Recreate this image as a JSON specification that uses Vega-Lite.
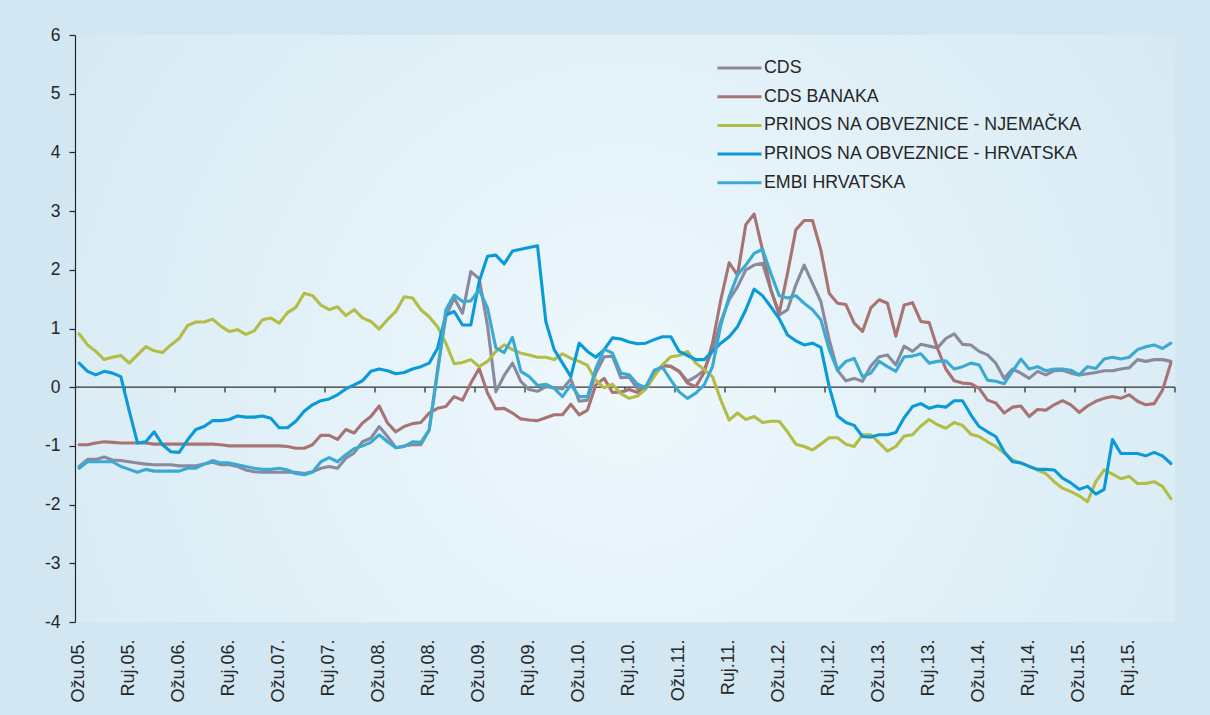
{
  "$schema": "https://vega.github.io/schema/vega-lite/v6.json",
  "width": 1100,
  "height": 587,
  "autosize": {"type": "none"},
  "padding": {"left": 75, "top": 35, "right": 35, "bottom": 93},
  "background": "#d2e7f1",
  "view": {"stroke": null, "fill": {"gradient": "radial", "x1": 0.5, "y1": 0.55, "r1": 0, "x2": 0.5, "y2": 0.55, "r2": 0.72, "stops": [{"offset": 0, "color": "#eef8fd"}, {"offset": 1, "color": "#d2e7f1"}]}},
  "config": {"font": "Liberation Sans"},
  "data": {"values": [
    {"m":"Ožu.05.","CDS":-1.35,"CDS BANAKA":-0.98,"PRINOS NA OBVEZNICE - NJEMAČKA":0.91,"PRINOS NA OBVEZNICE - HRVATSKA":0.41,"EMBI HRVATSKA":-1.38},
    {"m":"Tra.05.","CDS":-1.23,"CDS BANAKA":-0.98,"PRINOS NA OBVEZNICE - NJEMAČKA":0.72,"PRINOS NA OBVEZNICE - HRVATSKA":0.27,"EMBI HRVATSKA":-1.27},
    {"m":"Svi.05.","CDS":-1.23,"CDS BANAKA":-0.95,"PRINOS NA OBVEZNICE - NJEMAČKA":0.61,"PRINOS NA OBVEZNICE - HRVATSKA":0.21,"EMBI HRVATSKA":-1.27},
    {"m":"Lip.05.","CDS":-1.19,"CDS BANAKA":-0.93,"PRINOS NA OBVEZNICE - NJEMAČKA":0.47,"PRINOS NA OBVEZNICE - HRVATSKA":0.27,"EMBI HRVATSKA":-1.27},
    {"m":"Srp.05.","CDS":-1.24,"CDS BANAKA":-0.94,"PRINOS NA OBVEZNICE - NJEMAČKA":0.51,"PRINOS NA OBVEZNICE - HRVATSKA":0.24,"EMBI HRVATSKA":-1.27},
    {"m":"Kol.05.","CDS":-1.25,"CDS BANAKA":-0.95,"PRINOS NA OBVEZNICE - NJEMAČKA":0.54,"PRINOS NA OBVEZNICE - HRVATSKA":0.18,"EMBI HRVATSKA":-1.35},
    {"m":"Ruj.05.","CDS":-1.27,"CDS BANAKA":-0.95,"PRINOS NA OBVEZNICE - NJEMAČKA":0.41,"PRINOS NA OBVEZNICE - HRVATSKA":-0.40,"EMBI HRVATSKA":-1.40},
    {"m":"Lis.05.","CDS":-1.29,"CDS BANAKA":-0.95,"PRINOS NA OBVEZNICE - NJEMAČKA":0.55,"PRINOS NA OBVEZNICE - HRVATSKA":-0.95,"EMBI HRVATSKA":-1.45},
    {"m":"Stu.05.","CDS":-1.31,"CDS BANAKA":-0.95,"PRINOS NA OBVEZNICE - NJEMAČKA":0.69,"PRINOS NA OBVEZNICE - HRVATSKA":-0.93,"EMBI HRVATSKA":-1.40},
    {"m":"Pro.05.","CDS":-1.32,"CDS BANAKA":-0.97,"PRINOS NA OBVEZNICE - NJEMAČKA":0.62,"PRINOS NA OBVEZNICE - HRVATSKA":-0.76,"EMBI HRVATSKA":-1.43},
    {"m":"Sij.06.","CDS":-1.32,"CDS BANAKA":-0.97,"PRINOS NA OBVEZNICE - NJEMAČKA":0.59,"PRINOS NA OBVEZNICE - HRVATSKA":-0.98,"EMBI HRVATSKA":-1.43},
    {"m":"Velj.06.","CDS":-1.32,"CDS BANAKA":-0.97,"PRINOS NA OBVEZNICE - NJEMAČKA":0.72,"PRINOS NA OBVEZNICE - HRVATSKA":-1.10,"EMBI HRVATSKA":-1.43},
    {"m":"Ožu.06.","CDS":-1.34,"CDS BANAKA":-0.97,"PRINOS NA OBVEZNICE - NJEMAČKA":0.83,"PRINOS NA OBVEZNICE - HRVATSKA":-1.11,"EMBI HRVATSKA":-1.43},
    {"m":"Tra.06.","CDS":-1.34,"CDS BANAKA":-0.97,"PRINOS NA OBVEZNICE - NJEMAČKA":1.05,"PRINOS NA OBVEZNICE - HRVATSKA":-0.90,"EMBI HRVATSKA":-1.38},
    {"m":"Svi.06.","CDS":-1.34,"CDS BANAKA":-0.97,"PRINOS NA OBVEZNICE - NJEMAČKA":1.11,"PRINOS NA OBVEZNICE - HRVATSKA":-0.72,"EMBI HRVATSKA":-1.38},
    {"m":"Lip.06.","CDS":-1.31,"CDS BANAKA":-0.97,"PRINOS NA OBVEZNICE - NJEMAČKA":1.11,"PRINOS NA OBVEZNICE - HRVATSKA":-0.67,"EMBI HRVATSKA":-1.31},
    {"m":"Srp.06.","CDS":-1.28,"CDS BANAKA":-0.97,"PRINOS NA OBVEZNICE - NJEMAČKA":1.16,"PRINOS NA OBVEZNICE - HRVATSKA":-0.57,"EMBI HRVATSKA":-1.25},
    {"m":"Kol.06.","CDS":-1.32,"CDS BANAKA":-0.98,"PRINOS NA OBVEZNICE - NJEMAČKA":1.04,"PRINOS NA OBVEZNICE - HRVATSKA":-0.57,"EMBI HRVATSKA":-1.29},
    {"m":"Ruj.06.","CDS":-1.32,"CDS BANAKA":-1.00,"PRINOS NA OBVEZNICE - NJEMAČKA":0.95,"PRINOS NA OBVEZNICE - HRVATSKA":-0.55,"EMBI HRVATSKA":-1.29},
    {"m":"Lis.06.","CDS":-1.35,"CDS BANAKA":-1.00,"PRINOS NA OBVEZNICE - NJEMAČKA":0.98,"PRINOS NA OBVEZNICE - HRVATSKA":-0.49,"EMBI HRVATSKA":-1.32},
    {"m":"Stu.06.","CDS":-1.41,"CDS BANAKA":-1.00,"PRINOS NA OBVEZNICE - NJEMAČKA":0.90,"PRINOS NA OBVEZNICE - HRVATSKA":-0.51,"EMBI HRVATSKA":-1.35},
    {"m":"Pro.06.","CDS":-1.44,"CDS BANAKA":-1.00,"PRINOS NA OBVEZNICE - NJEMAČKA":0.96,"PRINOS NA OBVEZNICE - HRVATSKA":-0.51,"EMBI HRVATSKA":-1.38},
    {"m":"Sij.07.","CDS":-1.45,"CDS BANAKA":-1.00,"PRINOS NA OBVEZNICE - NJEMAČKA":1.15,"PRINOS NA OBVEZNICE - HRVATSKA":-0.49,"EMBI HRVATSKA":-1.40},
    {"m":"Velj.07.","CDS":-1.45,"CDS BANAKA":-1.00,"PRINOS NA OBVEZNICE - NJEMAČKA":1.18,"PRINOS NA OBVEZNICE - HRVATSKA":-0.53,"EMBI HRVATSKA":-1.40},
    {"m":"Ožu.07.","CDS":-1.45,"CDS BANAKA":-1.00,"PRINOS NA OBVEZNICE - NJEMAČKA":1.09,"PRINOS NA OBVEZNICE - HRVATSKA":-0.69,"EMBI HRVATSKA":-1.38},
    {"m":"Tra.07.","CDS":-1.45,"CDS BANAKA":-1.01,"PRINOS NA OBVEZNICE - NJEMAČKA":1.27,"PRINOS NA OBVEZNICE - HRVATSKA":-0.69,"EMBI HRVATSKA":-1.41},
    {"m":"Svi.07.","CDS":-1.45,"CDS BANAKA":-1.04,"PRINOS NA OBVEZNICE - NJEMAČKA":1.36,"PRINOS NA OBVEZNICE - HRVATSKA":-0.58,"EMBI HRVATSKA":-1.47},
    {"m":"Lip.07.","CDS":-1.47,"CDS BANAKA":-1.04,"PRINOS NA OBVEZNICE - NJEMAČKA":1.60,"PRINOS NA OBVEZNICE - HRVATSKA":-0.41,"EMBI HRVATSKA":-1.49},
    {"m":"Srp.07.","CDS":-1.44,"CDS BANAKA":-0.98,"PRINOS NA OBVEZNICE - NJEMAČKA":1.56,"PRINOS NA OBVEZNICE - HRVATSKA":-0.30,"EMBI HRVATSKA":-1.45},
    {"m":"Kol.07.","CDS":-1.38,"CDS BANAKA":-0.82,"PRINOS NA OBVEZNICE - NJEMAČKA":1.40,"PRINOS NA OBVEZNICE - HRVATSKA":-0.23,"EMBI HRVATSKA":-1.27},
    {"m":"Ruj.07.","CDS":-1.35,"CDS BANAKA":-0.82,"PRINOS NA OBVEZNICE - NJEMAČKA":1.32,"PRINOS NA OBVEZNICE - HRVATSKA":-0.20,"EMBI HRVATSKA":-1.20},
    {"m":"Lis.07.","CDS":-1.38,"CDS BANAKA":-0.89,"PRINOS NA OBVEZNICE - NJEMAČKA":1.37,"PRINOS NA OBVEZNICE - HRVATSKA":-0.13,"EMBI HRVATSKA":-1.27},
    {"m":"Stu.07.","CDS":-1.21,"CDS BANAKA":-0.72,"PRINOS NA OBVEZNICE - NJEMAČKA":1.22,"PRINOS NA OBVEZNICE - HRVATSKA":-0.03,"EMBI HRVATSKA":-1.15},
    {"m":"Pro.07.","CDS":-1.12,"CDS BANAKA":-0.78,"PRINOS NA OBVEZNICE - NJEMAČKA":1.32,"PRINOS NA OBVEZNICE - HRVATSKA":0.04,"EMBI HRVATSKA":-1.05},
    {"m":"Sij.08.","CDS":-0.93,"CDS BANAKA":-0.61,"PRINOS NA OBVEZNICE - NJEMAČKA":1.18,"PRINOS NA OBVEZNICE - HRVATSKA":0.11,"EMBI HRVATSKA":-1.00},
    {"m":"Velj.08.","CDS":-0.87,"CDS BANAKA":-0.50,"PRINOS NA OBVEZNICE - NJEMAČKA":1.12,"PRINOS NA OBVEZNICE - HRVATSKA":0.27,"EMBI HRVATSKA":-0.94},
    {"m":"Ožu.08.","CDS":-0.67,"CDS BANAKA":-0.32,"PRINOS NA OBVEZNICE - NJEMAČKA":0.99,"PRINOS NA OBVEZNICE - HRVATSKA":0.31,"EMBI HRVATSKA":-0.81},
    {"m":"Tra.08.","CDS":-0.84,"CDS BANAKA":-0.61,"PRINOS NA OBVEZNICE - NJEMAČKA":1.15,"PRINOS NA OBVEZNICE - HRVATSKA":0.28,"EMBI HRVATSKA":-0.93},
    {"m":"Svi.08.","CDS":-1.03,"CDS BANAKA":-0.76,"PRINOS NA OBVEZNICE - NJEMAČKA":1.29,"PRINOS NA OBVEZNICE - HRVATSKA":0.23,"EMBI HRVATSKA":-1.03},
    {"m":"Lip.08.","CDS":-1.00,"CDS BANAKA":-0.67,"PRINOS NA OBVEZNICE - NJEMAČKA":1.54,"PRINOS NA OBVEZNICE - HRVATSKA":0.25,"EMBI HRVATSKA":-1.01},
    {"m":"Srp.08.","CDS":-0.98,"CDS BANAKA":-0.62,"PRINOS NA OBVEZNICE - NJEMAČKA":1.52,"PRINOS NA OBVEZNICE - HRVATSKA":0.31,"EMBI HRVATSKA":-0.93},
    {"m":"Kol.08.","CDS":-0.98,"CDS BANAKA":-0.60,"PRINOS NA OBVEZNICE - NJEMAČKA":1.32,"PRINOS NA OBVEZNICE - HRVATSKA":0.35,"EMBI HRVATSKA":-0.94},
    {"m":"Ruj.08.","CDS":-0.73,"CDS BANAKA":-0.44,"PRINOS NA OBVEZNICE - NJEMAČKA":1.20,"PRINOS NA OBVEZNICE - HRVATSKA":0.41,"EMBI HRVATSKA":-0.73},
    {"m":"Lis.08.","CDS":0.30,"CDS BANAKA":-0.36,"PRINOS NA OBVEZNICE - NJEMAČKA":1.03,"PRINOS NA OBVEZNICE - HRVATSKA":0.66,"EMBI HRVATSKA":0.24},
    {"m":"Stu.08.","CDS":1.20,"CDS BANAKA":-0.33,"PRINOS NA OBVEZNICE - NJEMAČKA":0.75,"PRINOS NA OBVEZNICE - HRVATSKA":1.23,"EMBI HRVATSKA":1.32},
    {"m":"Pro.08.","CDS":1.52,"CDS BANAKA":-0.16,"PRINOS NA OBVEZNICE - NJEMAČKA":0.40,"PRINOS NA OBVEZNICE - HRVATSKA":1.29,"EMBI HRVATSKA":1.57},
    {"m":"Sij.09.","CDS":1.26,"CDS BANAKA":-0.22,"PRINOS NA OBVEZNICE - NJEMAČKA":0.42,"PRINOS NA OBVEZNICE - HRVATSKA":1.06,"EMBI HRVATSKA":1.46},
    {"m":"Velj.09.","CDS":1.97,"CDS BANAKA":0.07,"PRINOS NA OBVEZNICE - NJEMAČKA":0.47,"PRINOS NA OBVEZNICE - HRVATSKA":1.06,"EMBI HRVATSKA":1.47},
    {"m":"Ožu.09.","CDS":1.85,"CDS BANAKA":0.32,"PRINOS NA OBVEZNICE - NJEMAČKA":0.35,"PRINOS NA OBVEZNICE - HRVATSKA":1.80,"EMBI HRVATSKA":1.66},
    {"m":"Tra.09.","CDS":1.05,"CDS BANAKA":-0.10,"PRINOS NA OBVEZNICE - NJEMAČKA":0.44,"PRINOS NA OBVEZNICE - HRVATSKA":2.23,"EMBI HRVATSKA":1.35},
    {"m":"Svi.09.","CDS":-0.08,"CDS BANAKA":-0.37,"PRINOS NA OBVEZNICE - NJEMAČKA":0.61,"PRINOS NA OBVEZNICE - HRVATSKA":2.25,"EMBI HRVATSKA":0.67},
    {"m":"Lip.09.","CDS":0.20,"CDS BANAKA":-0.36,"PRINOS NA OBVEZNICE - NJEMAČKA":0.72,"PRINOS NA OBVEZNICE - HRVATSKA":2.10,"EMBI HRVATSKA":0.59},
    {"m":"Srp.09.","CDS":0.41,"CDS BANAKA":-0.44,"PRINOS NA OBVEZNICE - NJEMAČKA":0.64,"PRINOS NA OBVEZNICE - HRVATSKA":2.32,"EMBI HRVATSKA":0.85},
    {"m":"Kol.09.","CDS":0.10,"CDS BANAKA":-0.54,"PRINOS NA OBVEZNICE - NJEMAČKA":0.58,"PRINOS NA OBVEZNICE - HRVATSKA":2.35,"EMBI HRVATSKA":0.27},
    {"m":"Ruj.09.","CDS":-0.04,"CDS BANAKA":-0.56,"PRINOS NA OBVEZNICE - NJEMAČKA":0.55,"PRINOS NA OBVEZNICE - HRVATSKA":2.38,"EMBI HRVATSKA":0.18},
    {"m":"Lis.09.","CDS":-0.07,"CDS BANAKA":-0.57,"PRINOS NA OBVEZNICE - NJEMAČKA":0.51,"PRINOS NA OBVEZNICE - HRVATSKA":2.41,"EMBI HRVATSKA":0.03},
    {"m":"Stu.09.","CDS":0.01,"CDS BANAKA":-0.52,"PRINOS NA OBVEZNICE - NJEMAČKA":0.51,"PRINOS NA OBVEZNICE - HRVATSKA":1.12,"EMBI HRVATSKA":0.05},
    {"m":"Pro.09.","CDS":-0.01,"CDS BANAKA":-0.47,"PRINOS NA OBVEZNICE - NJEMAČKA":0.47,"PRINOS NA OBVEZNICE - HRVATSKA":0.64,"EMBI HRVATSKA":-0.02},
    {"m":"Sij.10.","CDS":-0.03,"CDS BANAKA":-0.47,"PRINOS NA OBVEZNICE - NJEMAČKA":0.57,"PRINOS NA OBVEZNICE - HRVATSKA":0.41,"EMBI HRVATSKA":-0.16},
    {"m":"Velj.10.","CDS":0.14,"CDS BANAKA":-0.29,"PRINOS NA OBVEZNICE - NJEMAČKA":0.49,"PRINOS NA OBVEZNICE - HRVATSKA":0.18,"EMBI HRVATSKA":0.04},
    {"m":"Ožu.10.","CDS":-0.24,"CDS BANAKA":-0.47,"PRINOS NA OBVEZNICE - NJEMAČKA":0.44,"PRINOS NA OBVEZNICE - HRVATSKA":0.75,"EMBI HRVATSKA":-0.16},
    {"m":"Tra.10.","CDS":-0.22,"CDS BANAKA":-0.39,"PRINOS NA OBVEZNICE - NJEMAČKA":0.37,"PRINOS NA OBVEZNICE - HRVATSKA":0.61,"EMBI HRVATSKA":-0.16},
    {"m":"Svi.10.","CDS":0.24,"CDS BANAKA":0.04,"PRINOS NA OBVEZNICE - NJEMAČKA":0.12,"PRINOS NA OBVEZNICE - HRVATSKA":0.51,"EMBI HRVATSKA":0.32},
    {"m":"Lip.10.","CDS":0.52,"CDS BANAKA":0.15,"PRINOS NA OBVEZNICE - NJEMAČKA":-0.01,"PRINOS NA OBVEZNICE - HRVATSKA":0.64,"EMBI HRVATSKA":0.65},
    {"m":"Srp.10.","CDS":0.53,"CDS BANAKA":-0.09,"PRINOS NA OBVEZNICE - NJEMAČKA":0.05,"PRINOS NA OBVEZNICE - HRVATSKA":0.84,"EMBI HRVATSKA":0.58},
    {"m":"Kol.10.","CDS":0.16,"CDS BANAKA":-0.08,"PRINOS NA OBVEZNICE - NJEMAČKA":-0.11,"PRINOS NA OBVEZNICE - HRVATSKA":0.82,"EMBI HRVATSKA":0.24},
    {"m":"Ruj.10.","CDS":0.17,"CDS BANAKA":-0.04,"PRINOS NA OBVEZNICE - NJEMAČKA":-0.19,"PRINOS NA OBVEZNICE - HRVATSKA":0.77,"EMBI HRVATSKA":0.21},
    {"m":"Lis.10.","CDS":-0.03,"CDS BANAKA":-0.09,"PRINOS NA OBVEZNICE - NJEMAČKA":-0.15,"PRINOS NA OBVEZNICE - HRVATSKA":0.74,"EMBI HRVATSKA":0.05},
    {"m":"Stu.10.","CDS":0.01,"CDS BANAKA":0.01,"PRINOS NA OBVEZNICE - NJEMAČKA":-0.03,"PRINOS NA OBVEZNICE - HRVATSKA":0.75,"EMBI HRVATSKA":-0.01},
    {"m":"Pro.10.","CDS":0.27,"CDS BANAKA":0.21,"PRINOS NA OBVEZNICE - NJEMAČKA":0.18,"PRINOS NA OBVEZNICE - HRVATSKA":0.81,"EMBI HRVATSKA":0.29},
    {"m":"Sij.11.","CDS":0.36,"CDS BANAKA":0.38,"PRINOS NA OBVEZNICE - NJEMAČKA":0.38,"PRINOS NA OBVEZNICE - HRVATSKA":0.86,"EMBI HRVATSKA":0.34},
    {"m":"Velj.11.","CDS":0.36,"CDS BANAKA":0.35,"PRINOS NA OBVEZNICE - NJEMAČKA":0.52,"PRINOS NA OBVEZNICE - HRVATSKA":0.86,"EMBI HRVATSKA":0.12},
    {"m":"Ožu.11.","CDS":0.27,"CDS BANAKA":0.27,"PRINOS NA OBVEZNICE - NJEMAČKA":0.54,"PRINOS NA OBVEZNICE - HRVATSKA":0.61,"EMBI HRVATSKA":-0.08},
    {"m":"Tra.11.","CDS":0.10,"CDS BANAKA":0.07,"PRINOS NA OBVEZNICE - NJEMAČKA":0.61,"PRINOS NA OBVEZNICE - HRVATSKA":0.54,"EMBI HRVATSKA":-0.19},
    {"m":"Svi.11.","CDS":0.18,"CDS BANAKA":0.01,"PRINOS NA OBVEZNICE - NJEMAČKA":0.41,"PRINOS NA OBVEZNICE - HRVATSKA":0.47,"EMBI HRVATSKA":-0.10},
    {"m":"Lip.11.","CDS":0.29,"CDS BANAKA":0.25,"PRINOS NA OBVEZNICE - NJEMAČKA":0.30,"PRINOS NA OBVEZNICE - HRVATSKA":0.47,"EMBI HRVATSKA":0.04},
    {"m":"Srp.11.","CDS":0.64,"CDS BANAKA":0.75,"PRINOS NA OBVEZNICE - NJEMAČKA":0.18,"PRINOS NA OBVEZNICE - HRVATSKA":0.61,"EMBI HRVATSKA":0.35},
    {"m":"Kol.11.","CDS":1.12,"CDS BANAKA":1.49,"PRINOS NA OBVEZNICE - NJEMAČKA":-0.22,"PRINOS NA OBVEZNICE - HRVATSKA":0.75,"EMBI HRVATSKA":1.06},
    {"m":"Ruj.11.","CDS":1.49,"CDS BANAKA":2.12,"PRINOS NA OBVEZNICE - NJEMAČKA":-0.56,"PRINOS NA OBVEZNICE - HRVATSKA":0.86,"EMBI HRVATSKA":1.54},
    {"m":"Lis.11.","CDS":1.71,"CDS BANAKA":1.91,"PRINOS NA OBVEZNICE - NJEMAČKA":-0.44,"PRINOS NA OBVEZNICE - HRVATSKA":1.03,"EMBI HRVATSKA":1.91},
    {"m":"Stu.11.","CDS":2.00,"CDS BANAKA":2.77,"PRINOS NA OBVEZNICE - NJEMAČKA":-0.55,"PRINOS NA OBVEZNICE - HRVATSKA":1.32,"EMBI HRVATSKA":2.08},
    {"m":"Pro.11.","CDS":2.08,"CDS BANAKA":2.95,"PRINOS NA OBVEZNICE - NJEMAČKA":-0.50,"PRINOS NA OBVEZNICE - HRVATSKA":1.67,"EMBI HRVATSKA":2.28},
    {"m":"Sij.12.","CDS":2.11,"CDS BANAKA":2.34,"PRINOS NA OBVEZNICE - NJEMAČKA":-0.60,"PRINOS NA OBVEZNICE - HRVATSKA":1.56,"EMBI HRVATSKA":2.35},
    {"m":"Velj.12.","CDS":1.66,"CDS BANAKA":1.66,"PRINOS NA OBVEZNICE - NJEMAČKA":-0.58,"PRINOS NA OBVEZNICE - HRVATSKA":1.37,"EMBI HRVATSKA":1.94},
    {"m":"Ožu.12.","CDS":1.23,"CDS BANAKA":1.26,"PRINOS NA OBVEZNICE - NJEMAČKA":-0.58,"PRINOS NA OBVEZNICE - HRVATSKA":1.17,"EMBI HRVATSKA":1.56},
    {"m":"Tra.12.","CDS":1.32,"CDS BANAKA":1.94,"PRINOS NA OBVEZNICE - NJEMAČKA":-0.76,"PRINOS NA OBVEZNICE - HRVATSKA":0.89,"EMBI HRVATSKA":1.52},
    {"m":"Svi.12.","CDS":1.74,"CDS BANAKA":2.68,"PRINOS NA OBVEZNICE - NJEMAČKA":-0.97,"PRINOS NA OBVEZNICE - HRVATSKA":0.79,"EMBI HRVATSKA":1.56},
    {"m":"Lip.12.","CDS":2.08,"CDS BANAKA":2.84,"PRINOS NA OBVEZNICE - NJEMAČKA":-1.01,"PRINOS NA OBVEZNICE - HRVATSKA":0.72,"EMBI HRVATSKA":1.43},
    {"m":"Srp.12.","CDS":1.77,"CDS BANAKA":2.84,"PRINOS NA OBVEZNICE - NJEMAČKA":-1.07,"PRINOS NA OBVEZNICE - HRVATSKA":0.75,"EMBI HRVATSKA":1.32},
    {"m":"Kol.12.","CDS":1.46,"CDS BANAKA":2.34,"PRINOS NA OBVEZNICE - NJEMAČKA":-0.97,"PRINOS NA OBVEZNICE - HRVATSKA":0.68,"EMBI HRVATSKA":1.15},
    {"m":"Ruj.12.","CDS":0.81,"CDS BANAKA":1.60,"PRINOS NA OBVEZNICE - NJEMAČKA":-0.86,"PRINOS NA OBVEZNICE - HRVATSKA":0.01,"EMBI HRVATSKA":0.64},
    {"m":"Lis.12.","CDS":0.29,"CDS BANAKA":1.43,"PRINOS NA OBVEZNICE - NJEMAČKA":-0.86,"PRINOS NA OBVEZNICE - HRVATSKA":-0.49,"EMBI HRVATSKA":0.29},
    {"m":"Stu.12.","CDS":0.11,"CDS BANAKA":1.41,"PRINOS NA OBVEZNICE - NJEMAČKA":-0.97,"PRINOS NA OBVEZNICE - HRVATSKA":-0.60,"EMBI HRVATSKA":0.44},
    {"m":"Pro.12.","CDS":0.15,"CDS BANAKA":1.09,"PRINOS NA OBVEZNICE - NJEMAČKA":-1.01,"PRINOS NA OBVEZNICE - HRVATSKA":-0.65,"EMBI HRVATSKA":0.49},
    {"m":"Sij.13.","CDS":0.10,"CDS BANAKA":0.95,"PRINOS NA OBVEZNICE - NJEMAČKA":-0.81,"PRINOS NA OBVEZNICE - HRVATSKA":-0.84,"EMBI HRVATSKA":0.18},
    {"m":"Velj.13.","CDS":0.36,"CDS BANAKA":1.35,"PRINOS NA OBVEZNICE - NJEMAČKA":-0.81,"PRINOS NA OBVEZNICE - HRVATSKA":-0.85,"EMBI HRVATSKA":0.24},
    {"m":"Ožu.13.","CDS":0.52,"CDS BANAKA":1.49,"PRINOS NA OBVEZNICE - NJEMAČKA":-0.95,"PRINOS NA OBVEZNICE - HRVATSKA":-0.81,"EMBI HRVATSKA":0.44},
    {"m":"Tra.13.","CDS":0.55,"CDS BANAKA":1.43,"PRINOS NA OBVEZNICE - NJEMAČKA":-1.09,"PRINOS NA OBVEZNICE - HRVATSKA":-0.81,"EMBI HRVATSKA":0.35},
    {"m":"Svi.13.","CDS":0.38,"CDS BANAKA":0.87,"PRINOS NA OBVEZNICE - NJEMAČKA":-1.01,"PRINOS NA OBVEZNICE - HRVATSKA":-0.77,"EMBI HRVATSKA":0.27},
    {"m":"Lip.13.","CDS":0.70,"CDS BANAKA":1.40,"PRINOS NA OBVEZNICE - NJEMAČKA":-0.83,"PRINOS NA OBVEZNICE - HRVATSKA":-0.52,"EMBI HRVATSKA":0.52},
    {"m":"Srp.13.","CDS":0.61,"CDS BANAKA":1.44,"PRINOS NA OBVEZNICE - NJEMAČKA":-0.81,"PRINOS NA OBVEZNICE - HRVATSKA":-0.33,"EMBI HRVATSKA":0.53},
    {"m":"Kol.13.","CDS":0.73,"CDS BANAKA":1.12,"PRINOS NA OBVEZNICE - NJEMAČKA":-0.66,"PRINOS NA OBVEZNICE - HRVATSKA":-0.28,"EMBI HRVATSKA":0.57},
    {"m":"Ruj.13.","CDS":0.70,"CDS BANAKA":1.10,"PRINOS NA OBVEZNICE - NJEMAČKA":-0.55,"PRINOS NA OBVEZNICE - HRVATSKA":-0.36,"EMBI HRVATSKA":0.41},
    {"m":"Lis.13.","CDS":0.67,"CDS BANAKA":0.66,"PRINOS NA OBVEZNICE - NJEMAČKA":-0.64,"PRINOS NA OBVEZNICE - HRVATSKA":-0.32,"EMBI HRVATSKA":0.44},
    {"m":"Stu.13.","CDS":0.83,"CDS BANAKA":0.31,"PRINOS NA OBVEZNICE - NJEMAČKA":-0.70,"PRINOS NA OBVEZNICE - HRVATSKA":-0.34,"EMBI HRVATSKA":0.45},
    {"m":"Pro.13.","CDS":0.91,"CDS BANAKA":0.11,"PRINOS NA OBVEZNICE - NJEMAČKA":-0.60,"PRINOS NA OBVEZNICE - HRVATSKA":-0.23,"EMBI HRVATSKA":0.31},
    {"m":"Sij.14.","CDS":0.73,"CDS BANAKA":0.07,"PRINOS NA OBVEZNICE - NJEMAČKA":-0.65,"PRINOS NA OBVEZNICE - HRVATSKA":-0.23,"EMBI HRVATSKA":0.35},
    {"m":"Velj.14.","CDS":0.72,"CDS BANAKA":0.06,"PRINOS NA OBVEZNICE - NJEMAČKA":-0.80,"PRINOS NA OBVEZNICE - HRVATSKA":-0.47,"EMBI HRVATSKA":0.41},
    {"m":"Ožu.14.","CDS":0.61,"CDS BANAKA":-0.02,"PRINOS NA OBVEZNICE - NJEMAČKA":-0.84,"PRINOS NA OBVEZNICE - HRVATSKA":-0.67,"EMBI HRVATSKA":0.38},
    {"m":"Tra.14.","CDS":0.55,"CDS BANAKA":-0.22,"PRINOS NA OBVEZNICE - NJEMAČKA":-0.93,"PRINOS NA OBVEZNICE - HRVATSKA":-0.76,"EMBI HRVATSKA":0.12},
    {"m":"Svi.14.","CDS":0.41,"CDS BANAKA":-0.27,"PRINOS NA OBVEZNICE - NJEMAČKA":-1.01,"PRINOS NA OBVEZNICE - HRVATSKA":-0.84,"EMBI HRVATSKA":0.10},
    {"m":"Lip.14.","CDS":0.15,"CDS BANAKA":-0.44,"PRINOS NA OBVEZNICE - NJEMAČKA":-1.12,"PRINOS NA OBVEZNICE - HRVATSKA":-1.10,"EMBI HRVATSKA":0.06},
    {"m":"Srp.14.","CDS":0.31,"CDS BANAKA":-0.34,"PRINOS NA OBVEZNICE - NJEMAČKA":-1.24,"PRINOS NA OBVEZNICE - HRVATSKA":-1.27,"EMBI HRVATSKA":0.27},
    {"m":"Kol.14.","CDS":0.24,"CDS BANAKA":-0.32,"PRINOS NA OBVEZNICE - NJEMAČKA":-1.29,"PRINOS NA OBVEZNICE - HRVATSKA":-1.29,"EMBI HRVATSKA":0.48},
    {"m":"Ruj.14.","CDS":0.15,"CDS BANAKA":-0.50,"PRINOS NA OBVEZNICE - NJEMAČKA":-1.35,"PRINOS NA OBVEZNICE - HRVATSKA":-1.35,"EMBI HRVATSKA":0.31},
    {"m":"Lis.14.","CDS":0.27,"CDS BANAKA":-0.38,"PRINOS NA OBVEZNICE - NJEMAČKA":-1.41,"PRINOS NA OBVEZNICE - HRVATSKA":-1.40,"EMBI HRVATSKA":0.35},
    {"m":"Stu.14.","CDS":0.21,"CDS BANAKA":-0.39,"PRINOS NA OBVEZNICE - NJEMAČKA":-1.47,"PRINOS NA OBVEZNICE - HRVATSKA":-1.40,"EMBI HRVATSKA":0.28},
    {"m":"Pro.14.","CDS":0.28,"CDS BANAKA":-0.30,"PRINOS NA OBVEZNICE - NJEMAČKA":-1.61,"PRINOS NA OBVEZNICE - HRVATSKA":-1.41,"EMBI HRVATSKA":0.31},
    {"m":"Sij.15.","CDS":0.29,"CDS BANAKA":-0.23,"PRINOS NA OBVEZNICE - NJEMAČKA":-1.72,"PRINOS NA OBVEZNICE - HRVATSKA":-1.55,"EMBI HRVATSKA":0.31},
    {"m":"Velj.15.","CDS":0.24,"CDS BANAKA":-0.30,"PRINOS NA OBVEZNICE - NJEMAČKA":-1.78,"PRINOS NA OBVEZNICE - HRVATSKA":-1.63,"EMBI HRVATSKA":0.29},
    {"m":"Ožu.15.","CDS":0.21,"CDS BANAKA":-0.43,"PRINOS NA OBVEZNICE - NJEMAČKA":-1.85,"PRINOS NA OBVEZNICE - HRVATSKA":-1.74,"EMBI HRVATSKA":0.21},
    {"m":"Tra.15.","CDS":0.23,"CDS BANAKA":-0.32,"PRINOS NA OBVEZNICE - NJEMAČKA":-1.95,"PRINOS NA OBVEZNICE - HRVATSKA":-1.69,"EMBI HRVATSKA":0.35},
    {"m":"Svi.15.","CDS":0.25,"CDS BANAKA":-0.24,"PRINOS NA OBVEZNICE - NJEMAČKA":-1.61,"PRINOS NA OBVEZNICE - HRVATSKA":-1.82,"EMBI HRVATSKA":0.32},
    {"m":"Lip.15.","CDS":0.28,"CDS BANAKA":-0.19,"PRINOS NA OBVEZNICE - NJEMAČKA":-1.41,"PRINOS NA OBVEZNICE - HRVATSKA":-1.74,"EMBI HRVATSKA":0.48},
    {"m":"Srp.15.","CDS":0.28,"CDS BANAKA":-0.16,"PRINOS NA OBVEZNICE - NJEMAČKA":-1.48,"PRINOS NA OBVEZNICE - HRVATSKA":-0.89,"EMBI HRVATSKA":0.51},
    {"m":"Kol.15.","CDS":0.31,"CDS BANAKA":-0.19,"PRINOS NA OBVEZNICE - NJEMAČKA":-1.56,"PRINOS NA OBVEZNICE - HRVATSKA":-1.13,"EMBI HRVATSKA":0.48},
    {"m":"Ruj.15.","CDS":0.33,"CDS BANAKA":-0.13,"PRINOS NA OBVEZNICE - NJEMAČKA":-1.52,"PRINOS NA OBVEZNICE - HRVATSKA":-1.13,"EMBI HRVATSKA":0.51},
    {"m":"Lis.15.","CDS":0.47,"CDS BANAKA":-0.24,"PRINOS NA OBVEZNICE - NJEMAČKA":-1.64,"PRINOS NA OBVEZNICE - HRVATSKA":-1.13,"EMBI HRVATSKA":0.64},
    {"m":"Stu.15.","CDS":0.44,"CDS BANAKA":-0.30,"PRINOS NA OBVEZNICE - NJEMAČKA":-1.64,"PRINOS NA OBVEZNICE - HRVATSKA":-1.17,"EMBI HRVATSKA":0.69},
    {"m":"Pro.15.","CDS":0.47,"CDS BANAKA":-0.28,"PRINOS NA OBVEZNICE - NJEMAČKA":-1.61,"PRINOS NA OBVEZNICE - HRVATSKA":-1.11,"EMBI HRVATSKA":0.72},
    {"m":"Sij.16.","CDS":0.47,"CDS BANAKA":-0.05,"PRINOS NA OBVEZNICE - NJEMAČKA":-1.69,"PRINOS NA OBVEZNICE - HRVATSKA":-1.17,"EMBI HRVATSKA":0.66},
    {"m":"Velj.16.","CDS":0.44,"CDS BANAKA":0.41,"PRINOS NA OBVEZNICE - NJEMAČKA":-1.90,"PRINOS NA OBVEZNICE - HRVATSKA":-1.30,"EMBI HRVATSKA":0.75}
  ]},
  "layer": [
    {
      "transform": [{"filter": "datum.m === 'Ožu.05.'"}],
      "mark": {"type": "rule", "color": "#333333", "strokeWidth": 1.3},
      "encoding": {"y": {"datum": 0, "type": "quantitative"}}
    },
    {
      "transform": [{"filter": {"field": "m", "oneOf": ["Ruj.05.","Ožu.06.","Ruj.06.","Ožu.07.","Ruj.07.","Ožu.08.","Ruj.08.","Ožu.09.","Ruj.09.","Ožu.10.","Ruj.10.","Ožu.11.","Ruj.11.","Ožu.12.","Ruj.12.","Ožu.13.","Ruj.13.","Ožu.14.","Ruj.14.","Ožu.15.","Ruj.15."]}}],
      "mark": {"type": "rule", "color": "#333333", "strokeWidth": 1.3},
      "encoding": {
        "x": {"field": "m", "type": "ordinal", "bandPosition": 0},
        "y": {"datum": 0, "type": "quantitative"},
        "y2": {"datum": -0.09}
      }
    },
    {
      "transform": [{"filter": "datum.m === 'Velj.16.'"}],
      "mark": {"type": "rule", "color": "#333333", "strokeWidth": 1.3},
      "encoding": {
        "x": {"field": "m", "type": "ordinal", "bandPosition": 1},
        "y": {"datum": 0, "type": "quantitative"},
        "y2": {"datum": -0.09}
      }
    },
    {
      "transform": [{"fold": ["CDS", "CDS BANAKA", "PRINOS NA OBVEZNICE - NJEMAČKA", "PRINOS NA OBVEZNICE - HRVATSKA", "EMBI HRVATSKA"], "as": ["serija", "vrijednost"]}],
      "mark": {"type": "line", "strokeWidth": 3.1, "strokeJoin": "round", "strokeCap": "round"},
      "encoding": {
        "x": {
          "field": "m",
          "type": "ordinal",
          "bandPosition": 0.5,
          "scale": {"type": "band", "paddingInner": 0, "paddingOuter": 0, "domain": ["Ožu.05.","Tra.05.","Svi.05.","Lip.05.","Srp.05.","Kol.05.","Ruj.05.","Lis.05.","Stu.05.","Pro.05.","Sij.06.","Velj.06.","Ožu.06.","Tra.06.","Svi.06.","Lip.06.","Srp.06.","Kol.06.","Ruj.06.","Lis.06.","Stu.06.","Pro.06.","Sij.07.","Velj.07.","Ožu.07.","Tra.07.","Svi.07.","Lip.07.","Srp.07.","Kol.07.","Ruj.07.","Lis.07.","Stu.07.","Pro.07.","Sij.08.","Velj.08.","Ožu.08.","Tra.08.","Svi.08.","Lip.08.","Srp.08.","Kol.08.","Ruj.08.","Lis.08.","Stu.08.","Pro.08.","Sij.09.","Velj.09.","Ožu.09.","Tra.09.","Svi.09.","Lip.09.","Srp.09.","Kol.09.","Ruj.09.","Lis.09.","Stu.09.","Pro.09.","Sij.10.","Velj.10.","Ožu.10.","Tra.10.","Svi.10.","Lip.10.","Srp.10.","Kol.10.","Ruj.10.","Lis.10.","Stu.10.","Pro.10.","Sij.11.","Velj.11.","Ožu.11.","Tra.11.","Svi.11.","Lip.11.","Srp.11.","Kol.11.","Ruj.11.","Lis.11.","Stu.11.","Pro.11.","Sij.12.","Velj.12.","Ožu.12.","Tra.12.","Svi.12.","Lip.12.","Srp.12.","Kol.12.","Ruj.12.","Lis.12.","Stu.12.","Pro.12.","Sij.13.","Velj.13.","Ožu.13.","Tra.13.","Svi.13.","Lip.13.","Srp.13.","Kol.13.","Ruj.13.","Lis.13.","Stu.13.","Pro.13.","Sij.14.","Velj.14.","Ožu.14.","Tra.14.","Svi.14.","Lip.14.","Srp.14.","Kol.14.","Ruj.14.","Lis.14.","Stu.14.","Pro.14.","Sij.15.","Velj.15.","Ožu.15.","Tra.15.","Svi.15.","Lip.15.","Srp.15.","Kol.15.","Ruj.15.","Lis.15.","Stu.15.","Pro.15.","Sij.16.","Velj.16."]},
          "axis": {
            "title": null,
            "values": ["Ožu.05.","Ruj.05.","Ožu.06.","Ruj.06.","Ožu.07.","Ruj.07.","Ožu.08.","Ruj.08.","Ožu.09.","Ruj.09.","Ožu.10.","Ruj.10.","Ožu.11.","Ruj.11.","Ožu.12.","Ruj.12.","Ožu.13.","Ruj.13.","Ožu.14.","Ruj.14.","Ožu.15.","Ruj.15."],
            "domain": false,
            "ticks": false,
            "tickSize": 0,
            "labelAngle": 270,
            "labelAlign": "right",
            "labelBaseline": "middle",
            "labelPadding": 17,
            "labelFontSize": 18,
            "labelColor": "#262626",
            "labelOverlap": false,
            "grid": false
          }
        },
        "y": {
          "field": "vrijednost",
          "type": "quantitative",
          "scale": {"domain": [-4, 6], "nice": false, "zero": false},
          "axis": {
            "title": null,
            "values": [-4, -3, -2, -1, 0, 1, 2, 3, 4, 5, 6],
            "labelExpr": "datum.value + ''",
            "grid": false,
            "domainColor": "#262626",
            "domainWidth": 1.2,
            "tickColor": "#262626",
            "tickWidth": 1.2,
            "tickSize": 6,
            "labelPadding": 9,
            "labelFontSize": 17.5,
            "labelColor": "#262626",
            "labelFlush": false
          }
        },
        "color": {
          "field": "serija",
          "type": "nominal",
          "scale": {
            "domain": ["CDS", "CDS BANAKA", "PRINOS NA OBVEZNICE - NJEMAČKA", "PRINOS NA OBVEZNICE - HRVATSKA", "EMBI HRVATSKA"],
            "range": ["#8a899d", "#a97373", "#b3bd45", "#0b9ad8", "#3aaad2"]
          },
          "legend": {
            "title": null,
            "orient": "none",
            "legendX": 641,
            "legendY": 24,
            "padding": 0,
            "symbolType": "stroke",
            "symbolSize": 1936,
            "symbolStrokeWidth": 3,
            "clipHeight": 18,
            "rowPadding": 10.7,
            "labelOffset": 1,
            "labelLimit": 500,
            "labelFontSize": 17.8,
            "labelColor": "#262626"
          }
        }
      }
    }
  ]
}
